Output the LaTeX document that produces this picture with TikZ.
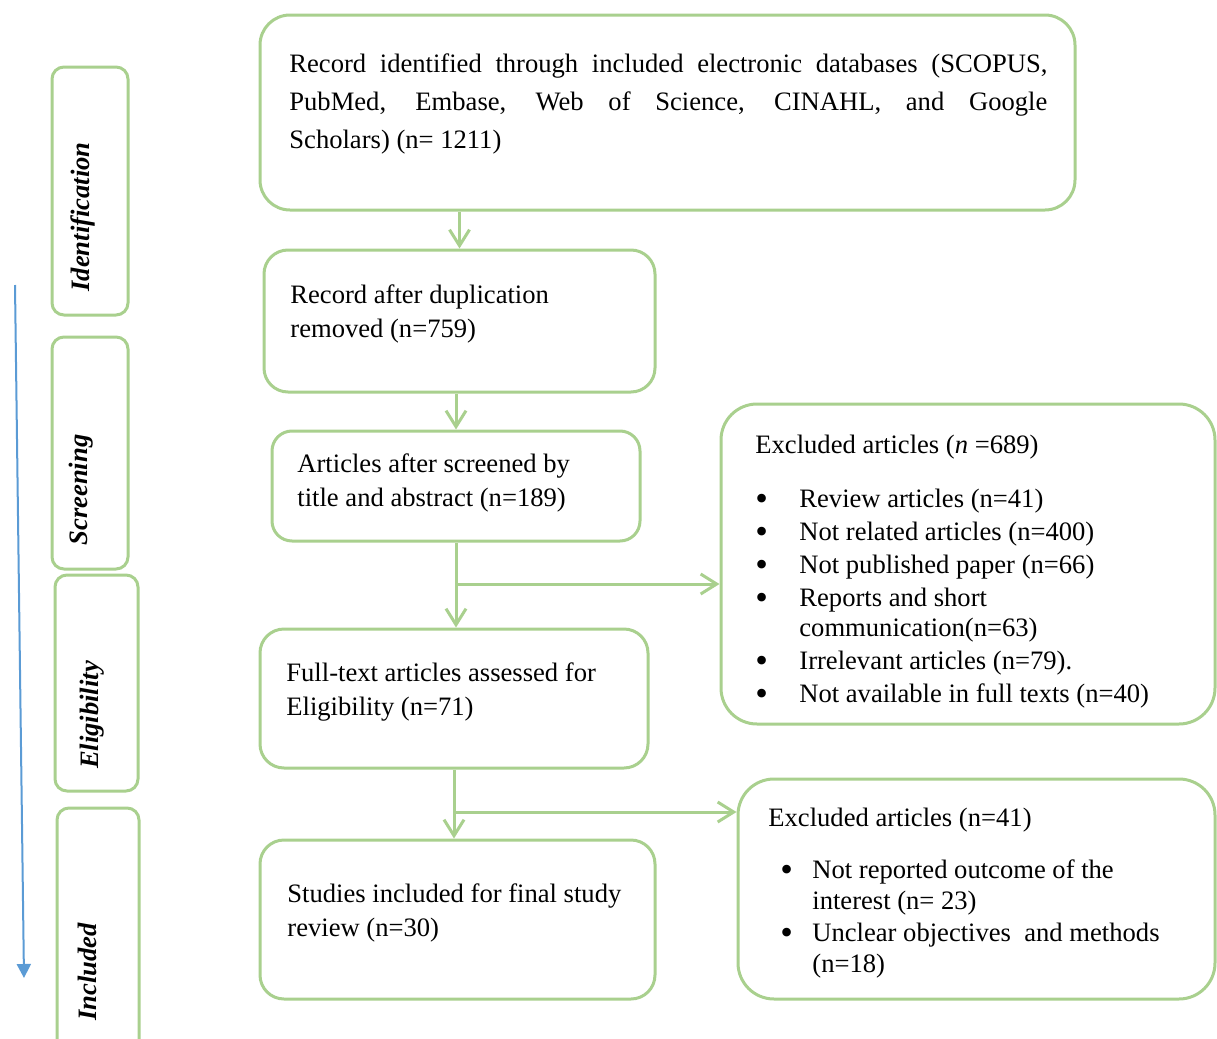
\documentclass[tikz,border=0pt]{standalone}
\usepackage{fontspec}
\setmainfont{Liberation Serif}
\usetikzlibrary{arrows.meta,calc}
\definecolor{gline}{RGB}{169,208,142}
\definecolor{bline}{RGB}{91,155,213}
\newcommand{\bigbul}{\smash{\raisebox{-1.5pt}{\fontsize{18}{18}\selectfont•}}}
\begin{document}
\begin{tikzpicture}[x=0.5pt,y=-0.5pt,
  gbox/.style={draw=gline,line width=1.5pt,inner sep=0pt,rounded corners=#1},
  gbox/.default=12pt,
  txt/.style={anchor=north west,inner sep=0pt,align=left,font=\fontsize{13.3}{17}\selectfont},
  lab/.style={anchor=base,rotate=90,inner sep=0pt,font=\fontsize{13.3}{16}\selectfont\bfseries\itshape},
  garr/.style={draw=gline,line width=1.5pt,-{Straight Barb[length=8pt,width=10pt,line width=1.5pt]}}]
\useasboundingbox (0,0) rectangle (1217,1039);
\clip (0,0) rectangle (1217,1039);
% main boxes
\node[gbox=15pt,minimum width=407.5pt,minimum height=97.5pt] (b1) at (667.5,112.5) {};
\node[gbox,minimum width=195.5pt,minimum height=71pt] (b2) at (459.5,321) {};
\node[gbox=10pt,minimum width=184pt,minimum height=55pt] (b3) at (456,486) {};
\node[gbox,minimum width=194pt,minimum height=69.5pt] (b4) at (454,698.5) {};
\node[gbox,minimum width=197.5pt,minimum height=79.5pt] (b5) at (457.5,919.5) {};
\node[gbox=18pt,minimum width=247pt,minimum height=160pt] (ex1) at (968,564) {};
\node[gbox=18pt,minimum width=238.5pt,minimum height=110pt] (ex2) at (976.5,889) {};
% stage boxes
\node[gbox=6pt,minimum width=38pt,minimum height=124pt] (s1) at (90,191) {};
\node[gbox=6pt,minimum width=38pt,minimum height=116pt] (s2) at (90,453) {};
\node[gbox=6pt,minimum width=41.5pt,minimum height=108pt] (s3) at (96.5,683) {};
\node[gbox=6pt,minimum width=41pt,minimum height=131pt] (s4) at (98,939) {};
\node[lab] (l1) at (89,217) {Identification};
\node[lab] (l2) at (87,490) {Screening};
\node[lab] (l3) at (98,715) {Eligibility};
\node[lab] (l4) at (97,972) {Included};
% texts
\node[txt,text width=379pt,align=justify,font=\fontsize{13.3}{19}\selectfont] (t1) at (289,45)
 {\strut Record identified through included electronic databases (SCOPUS,\linebreak PubMed, Embase, Web of Science, CINAHL, and Google\linebreak Scholars) (n= 1211)};
\node[txt] (t2) at (290,279) {\strut Record after duplication\\removed (n=759)};
\node[txt] (t3) at (297,448) {\strut Articles after screened by\\title and abstract (n=189)};
\node[txt] (t4) at (286,657) {\strut Full-text articles assessed for\\Eligibility (n=71)};
\node[txt] (t5) at (287,878) {\strut Studies included for final study\\review (n=30)};
\node[txt,font=\fontsize{13.3}{16.5}\selectfont] (t6) at (755,430)
 {\strut Excluded articles (\textit{n} =689)\\[10.5pt]
  \makebox[22pt][l]{\bigbul}Review articles (n=41)\\
  \makebox[22pt][l]{\bigbul}Not related articles (n=400)\\
  \makebox[22pt][l]{\bigbul}Not published paper (n=66)\\
  \makebox[22pt][l]{\bigbul}Reports and short\\[-1.5pt]
  \hspace*{22pt}communication(n=63)\\
  \makebox[22pt][l]{\bigbul}Irrelevant articles (n=79).\\
  \makebox[22pt][l]{\bigbul}Not available in full texts (n=40)};
\node[txt,font=\fontsize{13.3}{15.8}\selectfont] (t7) at (768,804)
 {\strut Excluded articles (n=41)\\[10pt]
  \hspace*{6pt}\makebox[16pt][l]{\bigbul}Not reported outcome of the\\
  \hspace*{22pt}interest (n= 23)\\
  \hspace*{6pt}\makebox[16pt][l]{\bigbul}Unclear objectives\ \ and methods\\
  \hspace*{22pt}(n=18)};
% connectors
\draw[garr] (b2.north |- b1.south) -- (b2.north);
\draw[garr] (b3.north |- b2.south) -- (b3.north);
\draw[garr] (b3.south) -- (b3.south |- b4.north);
\coordinate (j1) at (456,584);
\draw[garr] (j1) -- (j1 -| ex1.west);
\draw[garr] (b4.south) -- (b4.south |- b5.north);
\coordinate (j2) at (455,812);
\draw[garr] (j2) -- (j2 -| ex2.west);
% stage arrow
\coordinate (a1) at (15,285);
\coordinate (a2) at (24,978);
\draw[draw=bline,line width=1pt,-{Triangle[length=7pt,width=7pt]},bline] (a1) -- (a2);
\end{tikzpicture}
\end{document}
